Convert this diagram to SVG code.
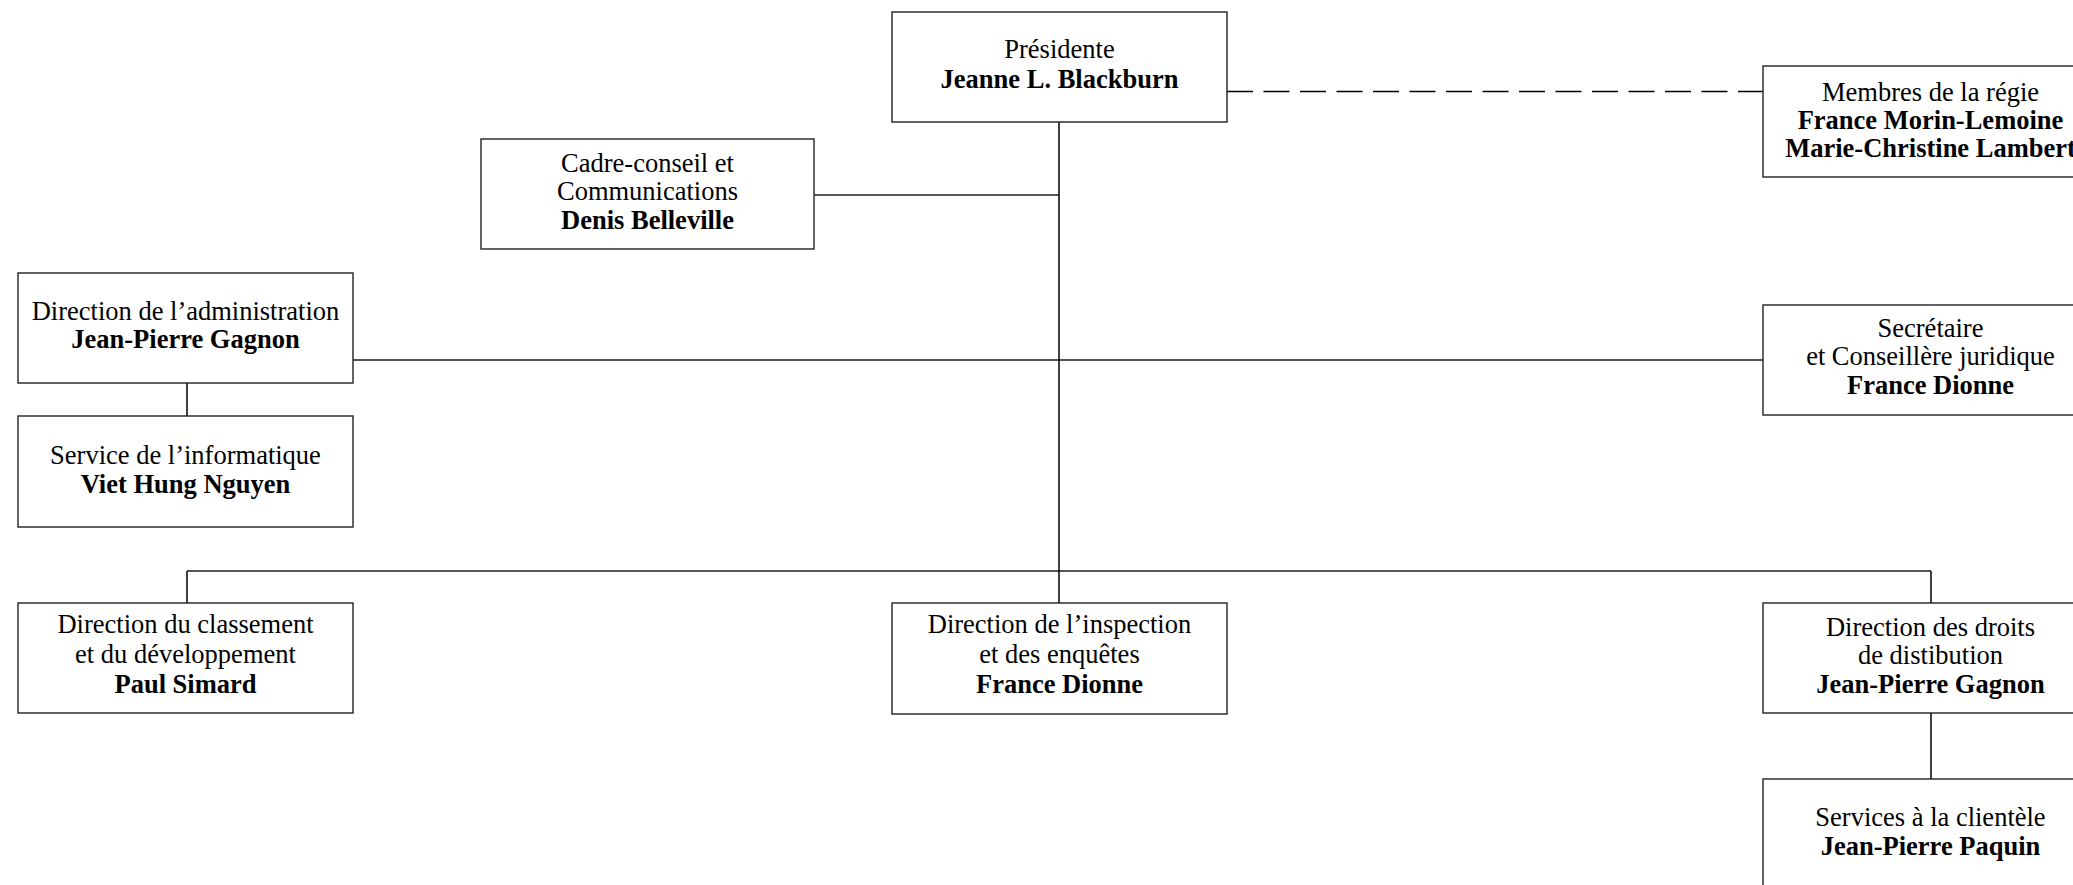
<svg xmlns="http://www.w3.org/2000/svg" width="2073" height="885" viewBox="0 0 2073 885">
<style>
.box{fill:#fff;stroke:#222;stroke-width:1.4}
.h{stroke:#555;stroke-width:2;fill:none}
.v{stroke:#000;stroke-width:1.5;fill:none}
.d{stroke:#000;stroke-width:1.5;fill:none;stroke-dasharray:26 10.5}
text{font-family:"Liberation Serif","Times New Roman",serif;font-size:26.5px;fill:#000;text-anchor:middle}
.b{font-weight:bold}
</style>
<rect width="2073" height="885" fill="#fff"/>
<g id="connectors">
<line class="h" x1="814" y1="195" x2="1059" y2="195"/>
<line class="h" x1="353" y1="360" x2="1763" y2="360"/>
<line class="h" x1="187" y1="571" x2="1931" y2="571"/>
<line class="v" x1="1059" y1="122" x2="1059" y2="603"/>
<line class="v" x1="187" y1="383" x2="187" y2="416"/>
<line class="v" x1="187" y1="571" x2="187" y2="603"/>
<line class="v" x1="1931" y1="571" x2="1931" y2="603"/>
<line class="v" x1="1931" y1="713" x2="1931" y2="779"/>
<line class="d" x1="1227" y1="91.5" x2="1763" y2="91.5"/>
</g>
<g id="presidente">
<rect class="box" x="892" y="12" width="335" height="110"/>
<text x="1059.5" y="58">Présidente</text>
<text class="b" x="1059.5" y="88">Jeanne L. Blackburn</text>
</g>
<g id="membres">
<rect class="box" x="1763" y="66" width="335" height="111"/>
<text x="1930.5" y="101">Membres de la régie</text>
<text class="b" x="1930.5" y="129">France Morin-Lemoine</text>
<text class="b" x="1930.5" y="157">Marie-Christine Lambert</text>
</g>
<g id="cadre">
<rect class="box" x="481" y="139" width="333" height="110"/>
<text x="647.5" y="172">Cadre-conseil et</text>
<text x="647.5" y="200">Communications</text>
<text class="b" x="647.5" y="229">Denis Belleville</text>
</g>
<g id="administration">
<rect class="box" x="18" y="273" width="335" height="110"/>
<text x="185.5" y="320">Direction de l’administration</text>
<text class="b" x="185.5" y="348">Jean-Pierre Gagnon</text>
</g>
<g id="informatique">
<rect class="box" x="18" y="416" width="335" height="111"/>
<text x="185.5" y="464">Service de l’informatique</text>
<text class="b" x="185.5" y="493">Viet Hung Nguyen</text>
</g>
<g id="secretaire">
<rect class="box" x="1763" y="305" width="335" height="110"/>
<text x="1930.5" y="337">Secrétaire</text>
<text x="1930.5" y="365">et Conseillère juridique</text>
<text class="b" x="1930.5" y="394">France Dionne</text>
</g>
<g id="classement">
<rect class="box" x="18" y="603" width="335" height="110"/>
<text x="185.5" y="633">Direction du classement</text>
<text x="185.5" y="663">et du développement</text>
<text class="b" x="185.5" y="693">Paul Simard</text>
</g>
<g id="inspection">
<rect class="box" x="892" y="603" width="335" height="111"/>
<text x="1059.5" y="633">Direction de l’inspection</text>
<text x="1059.5" y="663">et des enquêtes</text>
<text class="b" x="1059.5" y="693">France Dionne</text>
</g>
<g id="droits">
<rect class="box" x="1763" y="603" width="335" height="110"/>
<text x="1930.5" y="636">Direction des droits</text>
<text x="1930.5" y="664">de distibution</text>
<text class="b" x="1930.5" y="693">Jean-Pierre Gagnon</text>
</g>
<g id="services">
<rect class="box" x="1763" y="779" width="335" height="110"/>
<text x="1930.5" y="826">Services à la clientèle</text>
<text class="b" x="1930.5" y="855">Jean-Pierre Paquin</text>
</g>
</svg>
